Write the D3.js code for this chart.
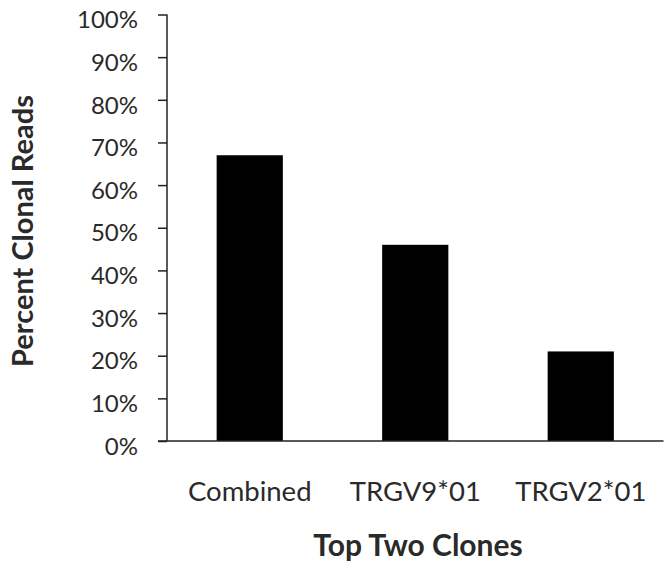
<!DOCTYPE html>
<html>
<head>
<meta charset="utf-8">
<script src="https://cdn.jsdelivr.net/npm/d3@7"></script>
<style>
  html, body { margin: 0; padding: 0; background: #fff; }
  svg { display: block; }
  text { font-family: Lato, "Open Sans", sans-serif; fill: #2a2a2a; }
</style>
</head>
<body>
<svg id="chart" width="664" height="566"></svg>
<script>
// Share of clonal reads for the two dominant clones and their sum
const categories = ["Combined", "TRGV9*01", "TRGV2*01"];
const values = [67, 46, 21];
const yTicks = [0, 10, 20, 30, 40, 50, 60, 70, 80, 90, 100];

const svg = d3.select("#chart");
const x0 = 167, x1 = 663.5, yBase = 441, yTop = 14.5;

const x = d3.scaleBand()
  .domain(categories)
  .range([x0, x1])
  .paddingInner(0.6)
  .paddingOuter(0.3);

const y = d3.scaleLinear().domain([0, 100]).range([yBase, yTop]);

// Bars
svg.append("g")
  .selectAll("rect")
  .data(values)
  .join("rect")
  .attr("x", (d, i) => x(categories[i]))
  .attr("y", d => y(d))
  .attr("width", x.bandwidth())
  .attr("height", d => y(0) - y(d))
  .attr("fill", "#000");

// Y axis
const yAxis = d3.axisLeft(y)
  .tickValues(yTicks)
  .tickFormat(d => d + "%")
  .tickSize(9)
  .tickPadding(20);

const gy = svg.append("g")
  .attr("transform", `translate(${x0},0)`)
  .call(yAxis);
gy.select(".domain").attr("stroke", "#222").attr("stroke-width", 1.5)
  .attr("d", `M0,${yTop}H0V${yBase}`);
gy.selectAll(".tick line").attr("stroke", "#222").attr("stroke-width", 1.5);
gy.selectAll(".tick text")
  .attr("font-size", 24)
  .attr("dy", "0.55em")
  .style("font-family", "Lato, 'Open Sans', sans-serif")
  .attr("fill", "#2a2a2a");

// Baseline across the plot
svg.append("line")
  .attr("x1", x0 - 9).attr("x2", x1)
  .attr("y1", yBase).attr("y2", yBase)
  .attr("stroke", "#222").attr("stroke-width", 1.5);

// Category labels
svg.append("g")
  .selectAll("text")
  .data(categories)
  .join("text")
  .attr("x", d => x(d) + x.bandwidth() / 2)
  .attr("y", 501)
  .attr("text-anchor", "middle")
  .attr("font-size", 27.5)
  .text(d => d);

// Axis titles
svg.append("text")
  .attr("x", 418).attr("y", 556)
  .attr("text-anchor", "middle")
  .attr("font-size", 30)
  .attr("font-weight", "bold")
  .text("Top Two Clones");

svg.append("text")
  .attr("transform", "translate(33,231) rotate(-90)")
  .attr("text-anchor", "middle")
  .attr("font-size", 29)
  .attr("font-weight", "bold")
  .text("Percent Clonal Reads");
</script>
</body>
</html>
